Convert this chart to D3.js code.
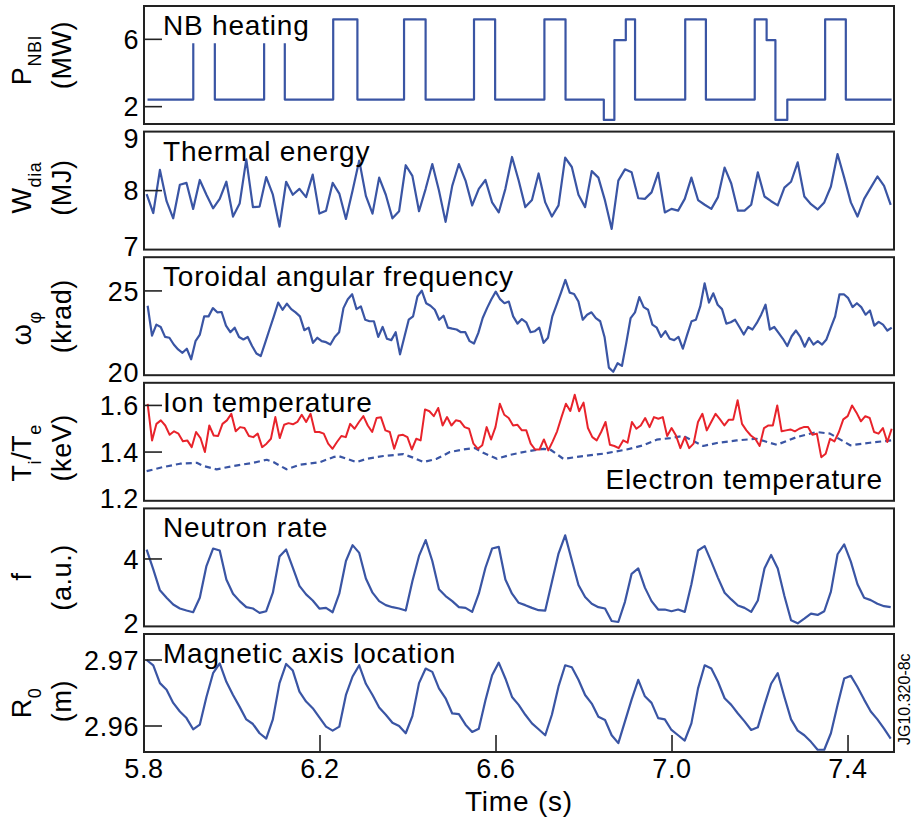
<!DOCTYPE html>
<html>
  <head>
    <meta charset="utf-8">
    <script src="https://d3js.org/d3.v7.min.js"></script>
    <style>
    body {
      margin: 0;
      background: #fff;
    }

    svg text {
      font-family: "Liberation Sans", Arial, Helvetica, sans-serif;
      fill: #000;
    }

    .frame {
      fill: none;
      stroke: #222;
      stroke-width: 2;
    }

    .tick {
      stroke: #222;
      stroke-width: 1.6;
    }

    .blue {
      fill: none;
      stroke: #3a55a4;
      stroke-width: 2.2;
      stroke-linejoin: round;
    }

    .red {
      fill: none;
      stroke: #e8232b;
      stroke-width: 2;
      stroke-linejoin: round;
    }

    .dashed {
      stroke-dasharray: 6, 4;
    }

    .title {
      font-size: 28px;
      letter-spacing: 0.8px;
    }

    .ticklabel {
      font-size: 27px;
      letter-spacing: 0.6px;
    }

    .axislabel {
      font-size: 27px;
      letter-spacing: 0.6px;
    }
  </style>
  </head>
  <body>
    <svg id="chart" width="914" height="823"></svg>
    <script>
    // NB heating power (MW), step waveform, null = no data
    var nbiTime = [5.808, 5.912, 5.912, 5.936, 5.961, 5.961, 6.073, 6.073, 6.096, 6.120,
      6.120, 6.230, 6.230, 6.285, 6.285, 6.391, 6.391, 6.440, 6.440, 6.550,
      6.550, 6.598, 6.598, 6.710, 6.710, 6.758, 6.758, 6.845, 6.845, 6.869,
      6.869, 6.895, 6.895, 6.916, 6.916, 7.030, 7.030, 7.077, 7.077, 7.188,
      7.188, 7.215, 7.215, 7.235, 7.235, 7.262, 7.262, 7.348, 7.348, 7.395,
      7.395, 7.499];
    var nbiPower = [2.42, 2.42, 5.76, null, 5.76, 2.42, 2.42, 5.76, null, 5.76,
      2.42, 2.42, 7.19, 7.19, 2.42, 2.42, 7.19, 7.19, 2.42, 2.42,
      7.19, 7.19, 2.42, 2.42, 7.19, 7.19, 2.42, 2.42, 1.21, 1.21,
      5.95, 5.95, 7.19, 7.19, 2.42, 2.42, 7.19, 7.19, 2.42, 2.42,
      7.19, 7.19, 5.95, 5.95, 1.21, 1.21, 2.42, 2.42, 7.19, 7.19,
      2.42, 2.42];

    // thermal energy W_dia (MJ), evenly sampled 5.806 .. 7.497 s
    var wdia = [7.94, 7.62, 8.35, 7.82, 7.53, 8.10, 8.13, 7.69, 8.18, 7.93,
      7.70, 7.86, 8.15, 7.56, 7.78, 8.53, 7.72, 7.73, 8.23, 7.93,
      7.39, 8.15, 7.93, 8.03, 7.89, 8.27, 7.61, 7.66, 8.13, 7.95,
      7.52, 8.00, 8.51, 7.91, 7.61, 8.22, 7.93, 7.53, 7.65, 8.43,
      8.25, 7.65, 8.03, 8.45, 8.00, 7.47, 8.08, 8.45, 8.17, 7.75,
      8.03, 8.18, 7.80, 7.63, 8.03, 8.57, 8.17, 7.72, 7.84, 8.29,
      7.80, 7.56, 7.75, 8.56, 8.40, 7.93, 7.72, 8.33, 8.22, 7.83,
      7.35, 8.17, 8.36, 8.31, 7.87, 7.86, 7.97, 8.30, 7.63, 7.69,
      7.66, 7.86, 8.22, 7.84, 7.76, 7.69, 7.89, 8.39, 8.12, 7.66,
      7.66, 7.76, 8.31, 7.90, 7.82, 7.75, 8.05, 8.15, 8.48, 7.90,
      7.77, 7.68, 7.80, 8.07, 8.62, 8.22, 7.80, 7.56, 7.86, 8.05,
      8.24, 8.08, 7.76];

    // toroidal angular frequency (krad), evenly sampled 5.808 .. 7.499 s
    var omega = [24.12, 22.35, 23.00, 22.86, 22.27, 22.22, 21.82, 21.53, 21.33, 21.57,
      20.94, 22.02, 22.41, 23.49, 23.49, 23.98, 23.73, 23.75, 22.94, 22.55,
      22.82, 22.27, 22.12, 22.27, 21.73, 21.29, 21.14, 21.92, 22.71, 23.49,
      24.31, 23.88, 24.24, 23.92, 23.73, 23.49, 22.67, 22.82, 21.92, 22.22,
      22.02, 21.96, 21.82, 22.27, 22.55, 23.98, 24.51, 24.80, 23.92, 24.08,
      23.29, 23.20, 23.20, 22.27, 22.86, 22.16, 22.08, 22.55, 21.24, 22.27,
      23.29, 23.49, 24.67, 25.02, 24.27, 24.12, 23.88, 23.29, 23.53, 22.82,
      22.76, 22.71, 22.55, 22.55, 22.02, 21.88, 22.51, 23.39, 23.98, 24.51,
      24.96, 24.51, 24.27, 24.37, 23.49, 23.06, 23.33, 23.14, 22.55, 22.61,
      22.82, 21.92, 22.22, 23.49, 24.18, 24.90, 25.65, 24.90, 24.82, 24.37,
      23.29, 23.59, 23.73, 23.39, 23.20, 22.27, 20.45, 20.20, 20.71, 20.55,
      21.92, 23.39, 23.73, 24.63, 24.04, 23.88, 23.00, 22.82, 22.27, 22.61,
      22.16, 22.08, 22.27, 21.57, 22.41, 23.20, 23.29, 24.08, 25.45, 24.31,
      24.86, 24.18, 23.92, 23.06, 23.14, 23.29, 22.86, 22.41, 22.86, 22.71,
      23.10, 23.59, 24.18, 22.71, 22.86, 22.51, 22.16, 21.73, 22.31, 22.65,
      22.27, 21.69, 22.22, 21.82, 22.02, 21.82, 22.12, 22.82, 23.49, 24.80,
      24.80, 24.57, 24.04, 24.27, 24.04, 23.59, 23.84, 22.94, 23.16, 23.00,
      22.65, 22.82];

    // ion temperature (keV), evenly sampled 5.808 .. 7.499 s
    var ionTemp = [1.607, 1.450, 1.521, 1.536, 1.514, 1.474, 1.489, 1.479, 1.446, 1.450,
      1.421, 1.486, 1.460, 1.400, 1.514, 1.471, 1.469, 1.521, 1.536, 1.564,
      1.489, 1.507, 1.503, 1.469, 1.464, 1.479, 1.421, 1.436, 1.457, 1.550,
      1.460, 1.517, 1.524, 1.519, 1.529, 1.560, 1.529, 1.564, 1.486, 1.486,
      1.479, 1.436, 1.414, 1.443, 1.469, 1.464, 1.521, 1.500, 1.529, 1.554,
      1.514, 1.486, 1.546, 1.549, 1.493, 1.486, 1.414, 1.471, 1.474, 1.464,
      1.411, 1.457, 1.450, 1.583, 1.575, 1.554, 1.589, 1.514, 1.550,
      1.514, 1.536, 1.532, 1.507, 1.500, 1.436, 1.414, 1.429, 1.507, 1.454,
      1.507, 1.607, 1.560, 1.546, 1.514, 1.517, 1.493, 1.493, 1.436, 1.411,
      1.411, 1.454, 1.407, 1.446, 1.489, 1.550, 1.607, 1.576, 1.646, 1.575,
      1.612, 1.503, 1.464, 1.450, 1.486, 1.529, 1.431, 1.426, 1.417, 1.450,
      1.440, 1.529, 1.500, 1.514, 1.546, 1.507, 1.550, 1.543, 1.550, 1.469,
      1.503, 1.471, 1.417, 1.464, 1.417, 1.436, 1.529, 1.564, 1.493, 1.529,
      1.564, 1.540, 1.514, 1.539, 1.539, 1.622, 1.521, 1.493, 1.471, 1.457,
      1.426, 1.503, 1.514, 1.514, 1.600, 1.489, 1.493, 1.497, 1.489, 1.500,
      1.507, 1.507, 1.474, 1.479, 1.378, 1.393, 1.457, 1.446, 1.486, 1.540,
      1.554, 1.600, 1.569, 1.532, 1.554, 1.546, 1.486, 1.479, 1.503, 1.443,
      1.500];

    // electron temperature (keV)
    var teTime = [5.806, 5.844, 5.882, 5.920, 5.935, 5.965, 6.003, 6.048, 6.079, 6.094,
      6.124, 6.155, 6.200, 6.230, 6.242, 6.283, 6.306, 6.344, 6.389, 6.412,
      6.435, 6.465, 6.495, 6.526, 6.552, 6.571, 6.602, 6.632, 6.670, 6.708,
      6.723, 6.753, 6.799, 6.844, 6.897, 6.935, 6.965, 6.996, 7.026, 7.071,
      7.102, 7.147, 7.192, 7.238, 7.283, 7.329, 7.359, 7.405, 7.450, 7.499];
    var elecTemp = [1.318, 1.336, 1.350, 1.354, 1.340, 1.326, 1.340, 1.354, 1.367, 1.357,
      1.326, 1.346, 1.357, 1.378, 1.383, 1.357, 1.371, 1.383, 1.391, 1.376,
      1.357, 1.371, 1.400, 1.411, 1.417, 1.397, 1.371, 1.388, 1.403, 1.414,
      1.411, 1.371, 1.383, 1.393, 1.411, 1.429, 1.453, 1.460, 1.469, 1.426,
      1.439, 1.450, 1.457, 1.431, 1.464, 1.486, 1.479, 1.429, 1.440, 1.450];

    // neutron rate (a.u.), evenly sampled 5.806 .. 7.497 s
    var neutron = [4.28, 3.69, 3.07, 2.85, 2.65, 2.53, 2.47, 2.42, 2.85, 3.79,
      4.31, 4.25, 3.39, 2.97, 2.75, 2.57, 2.53, 2.40, 2.45, 3.00,
      4.07, 4.28, 3.74, 3.20, 2.95, 2.77, 2.53, 2.55, 2.42, 2.97,
      3.94, 4.41, 4.18, 3.42, 3.00, 2.75, 2.63, 2.57, 2.53, 2.47,
      3.34, 4.09, 4.56, 3.94, 3.10, 2.90,
      2.75, 2.57, 2.55, 2.43, 2.97, 3.74, 4.31, 4.36, 3.39, 2.97,
      2.70, 2.63, 2.55, 2.48, 2.47, 3.32, 4.16, 4.70, 3.96, 3.23,
      2.87, 2.67, 2.57, 2.53, 2.16, 2.13, 2.73, 3.56, 3.72, 3.15,
      2.75, 2.50, 2.50, 2.45, 2.50, 2.43, 3.25, 4.25, 4.38, 3.92,
      3.44, 3.00, 2.80, 2.62, 2.55, 2.43, 2.77, 3.72, 4.12, 3.72,
      2.90, 2.18, 2.09, 2.23, 2.38, 2.34, 2.45, 3.03, 4.14, 4.43,
      3.92, 3.25, 2.85, 2.78, 2.67, 2.60, 2.57];

    // magnetic axis location R0 (m), evenly sampled 5.806 .. 7.497 s
    var r0 = [2.9700, 2.9692, 2.9665, 2.9655, 2.9635, 2.9622, 2.9612, 2.9595, 2.9602, 2.9644,
      2.9680, 2.9695, 2.9667, 2.9647, 2.9629, 2.9610, 2.9603, 2.9589, 2.9581, 2.9610,
      2.9665, 2.9694, 2.9684, 2.9652, 2.9637, 2.9627, 2.9613, 2.9599, 2.9593, 2.9599,
      2.9647, 2.9675, 2.9692, 2.9664, 2.9647, 2.9628, 2.9617, 2.9605, 2.9600, 2.9589,
      2.9615, 2.9665, 2.9687, 2.9682, 2.9657, 2.9642,
      2.9619, 2.9618, 2.9602, 2.9591, 2.9596, 2.9639, 2.9677, 2.9696, 2.9672, 2.9644,
      2.9632, 2.9617, 2.9604, 2.9595, 2.9586, 2.9617, 2.9660, 2.9692, 2.9689, 2.9670,
      2.9647, 2.9634, 2.9614, 2.9609, 2.9586, 2.9574, 2.9607, 2.9640, 2.9670, 2.9645,
      2.9635, 2.9612, 2.9610, 2.9594, 2.9586, 2.9578, 2.9604, 2.9657, 2.9692, 2.9687,
      2.9667, 2.9642, 2.9632, 2.9619, 2.9607, 2.9594, 2.9598, 2.9632, 2.9664, 2.9680,
      2.9644, 2.9610, 2.9593, 2.9586, 2.9576, 2.9564, 2.9564, 2.9589, 2.9632, 2.9672,
      2.9676, 2.9659, 2.9640, 2.9622, 2.9610, 2.9596, 2.9581];

    var nbiTicks = [2, 6];
    var wTicks = [7, 8, 9];
    var omegaTicks = [20, 25];
    var tempTicks = [1.2, 1.4, 1.6];
    var neutronTicks = [2, 4];
    var r0Ticks = [2.96, 2.97];
    var timeTicks = [5.8, 6.2, 6.6, 7.0, 7.4];

    function evenTimes(n, t0, t1) {
      return d3.range(n).map(function (i) { return t0 + (t1 - t0) * i / (n - 1); });
    }

    var plotLeft = 144, plotRight = 894;
    var panelTop = 6, panelStep = 125.6, panelHeight = 118;

    var x = d3.scaleLinear().domain([5.8, 7.5045]).range([plotLeft, plotRight]);

    var fastTimes = evenTimes(omega.length, 5.8083, 7.4993);
    var slowTimes = evenTimes(wdia.length, 5.806, 7.497);

    var panels = [{
      domain: [0.97, 7.98], ticks: nbiTicks, fmt: "d", title: "NB heating",
      label1: [["P", 0], ["NBI", 1]], label2: "(MW)", shift: [-5, -10],
      series: [{ t: nbiTime, v: nbiPower, cls: "blue" }]
    }, {
      domain: [7, 9], ticks: wTicks, fmt: "d", title: "Thermal energy",
      label1: [["W", 0], ["dia", 1]], label2: "(MJ)", shift: [-3, -3],
      series: [{ t: slowTimes, v: wdia, cls: "blue" }]
    }, {
      domain: [20, 27], ticks: omegaTicks, fmt: "d", title: "Toroidal angular frequency",
      label1: [["\u03c9", 0], ["\u03c6", 1]], label2: "(krad)", shift: [12, 0],
      series: [{ t: fastTimes, v: omega, cls: "blue" }]
    }, {
      domain: [1.191, 1.697], ticks: tempTicks, fmt: ".1f", title: "Ion temperature",
      label1: [["T", 0], ["i", 1], ["/T", 0], ["e", 1]], label2: "(keV)", shift: [11, 6],
      series: [{ t: teTime, v: elecTemp, cls: "blue dashed" },
               { t: evenTimes(ionTemp.length, 5.8083, 7.4993), v: ionTemp, cls: "red" }]
    }, {
      domain: [2, 5.5], ticks: neutronTicks, fmt: "d", title: "Neutron rate",
      label1: [["f", 0]], label2: "(a.u.)", shift: [9, 10],
      series: [{ t: slowTimes, v: neutron, cls: "blue" }]
    }, {
      domain: [2.956061, 2.973939], ticks: r0Ticks, fmt: ".2f", title: "Magnetic axis location",
      label1: [["R", 0], ["0", 1]], label2: "(m)", shift: [10, 8],
      series: [{ t: slowTimes, v: r0, cls: "blue" }]
    }];

    var svg = d3.select("#chart");

    panels.forEach(function (p, i) {
      var top = panelTop + i * panelStep;
      var bottom = top + panelHeight;
      var y = d3.scaleLinear().domain(p.domain).range([bottom, top]);
      var g = svg.append("g").attr("class", "panel");

      p.series.forEach(function (s) {
        var pts = s.t.map(function (t, k) { return [t, s.v[k]]; });
        var line = d3.line()
          .defined(function (d) { return d[1] != null; })
          .x(function (d) { return x(d[0]); })
          .y(function (d) { return y(d[1]); });
        g.append("path")
          .attr("class", s.cls)
          .attr("d", line(pts));
      });

      g.append("rect")
        .attr("class", "frame")
        .attr("x", plotLeft)
        .attr("y", top)
        .attr("width", plotRight - plotLeft)
        .attr("height", panelHeight);

      var fmt = d3.format(p.fmt);
      p.ticks.forEach(function (v) {
        // no tick mark where the value sits on the frame edge
        if (y(v) > top + 4 && y(v) < bottom - 4) {
          g.append("line")
            .attr("class", "tick")
            .attr("x1", plotLeft).attr("x2", plotLeft + 18)
            .attr("y1", y(v)).attr("y2", y(v));
        }
        var ty = Math.max(top + 7, Math.min(bottom - 3, y(v)));
        g.append("text")
          .attr("class", "ticklabel")
          .attr("x", 139)
          .attr("y", ty)
          .attr("dy", "0.36em")
          .attr("text-anchor", "end")
          .text(fmt(v));
      });

      g.append("text")
        .attr("class", "title")
        .attr("x", 163)
        .attr("y", top + 29)
        .text(p.title);

      var mid = top + panelHeight / 2;
      var l1 = g.append("text")
        .attr("class", "axislabel")
        .attr("text-anchor", "middle")
        .attr("transform", "translate(31," + (mid + p.shift[0]) + ") rotate(-90)");
      var down = false;
      p.label1.forEach(function (part) {
        var ts = l1.append("tspan").text(part[0]);
        if (part[1]) {
          ts.attr("font-size", 18).attr("dy", 10);
          down = true;
        } else if (down) {
          ts.attr("dy", -10);
          down = false;
        }
      });
      g.append("text")
        .attr("class", "axislabel")
        .attr("text-anchor", "middle")
        .attr("transform", "translate(71," + (mid + p.shift[1]) + ") rotate(-90)")
        .text(p.label2);

      if (i === 3) {
        g.append("text")
          .attr("class", "title")
          .attr("x", 883)
          .attr("y", top + 106)
          .attr("text-anchor", "end")
          .text("Electron temperature");
      }

      if (i === panels.length - 1) {
        timeTicks.forEach(function (t) {
          if (x(t) > plotLeft + 4) {
            g.append("line")
              .attr("class", "tick")
              .attr("x1", x(t)).attr("x2", x(t))
              .attr("y1", bottom).attr("y2", bottom - 17);
          }
          g.append("text")
            .attr("class", "ticklabel")
            .attr("x", x(t))
            .attr("y", 778)
            .attr("text-anchor", "middle")
            .text(d3.format(".1f")(t));
        });
        g.append("text")
          .attr("class", "title")
          .attr("x", (plotLeft + plotRight) / 2)
          .attr("y", 811)
          .attr("text-anchor", "middle")
          .text("Time (s)");
      }
    });

    svg.append("text")
      .attr("transform", "translate(910,745) rotate(-90)")
      .attr("font-size", 16)
      .text("JG10.320-8c");
  </script>
  </body>
</html>
